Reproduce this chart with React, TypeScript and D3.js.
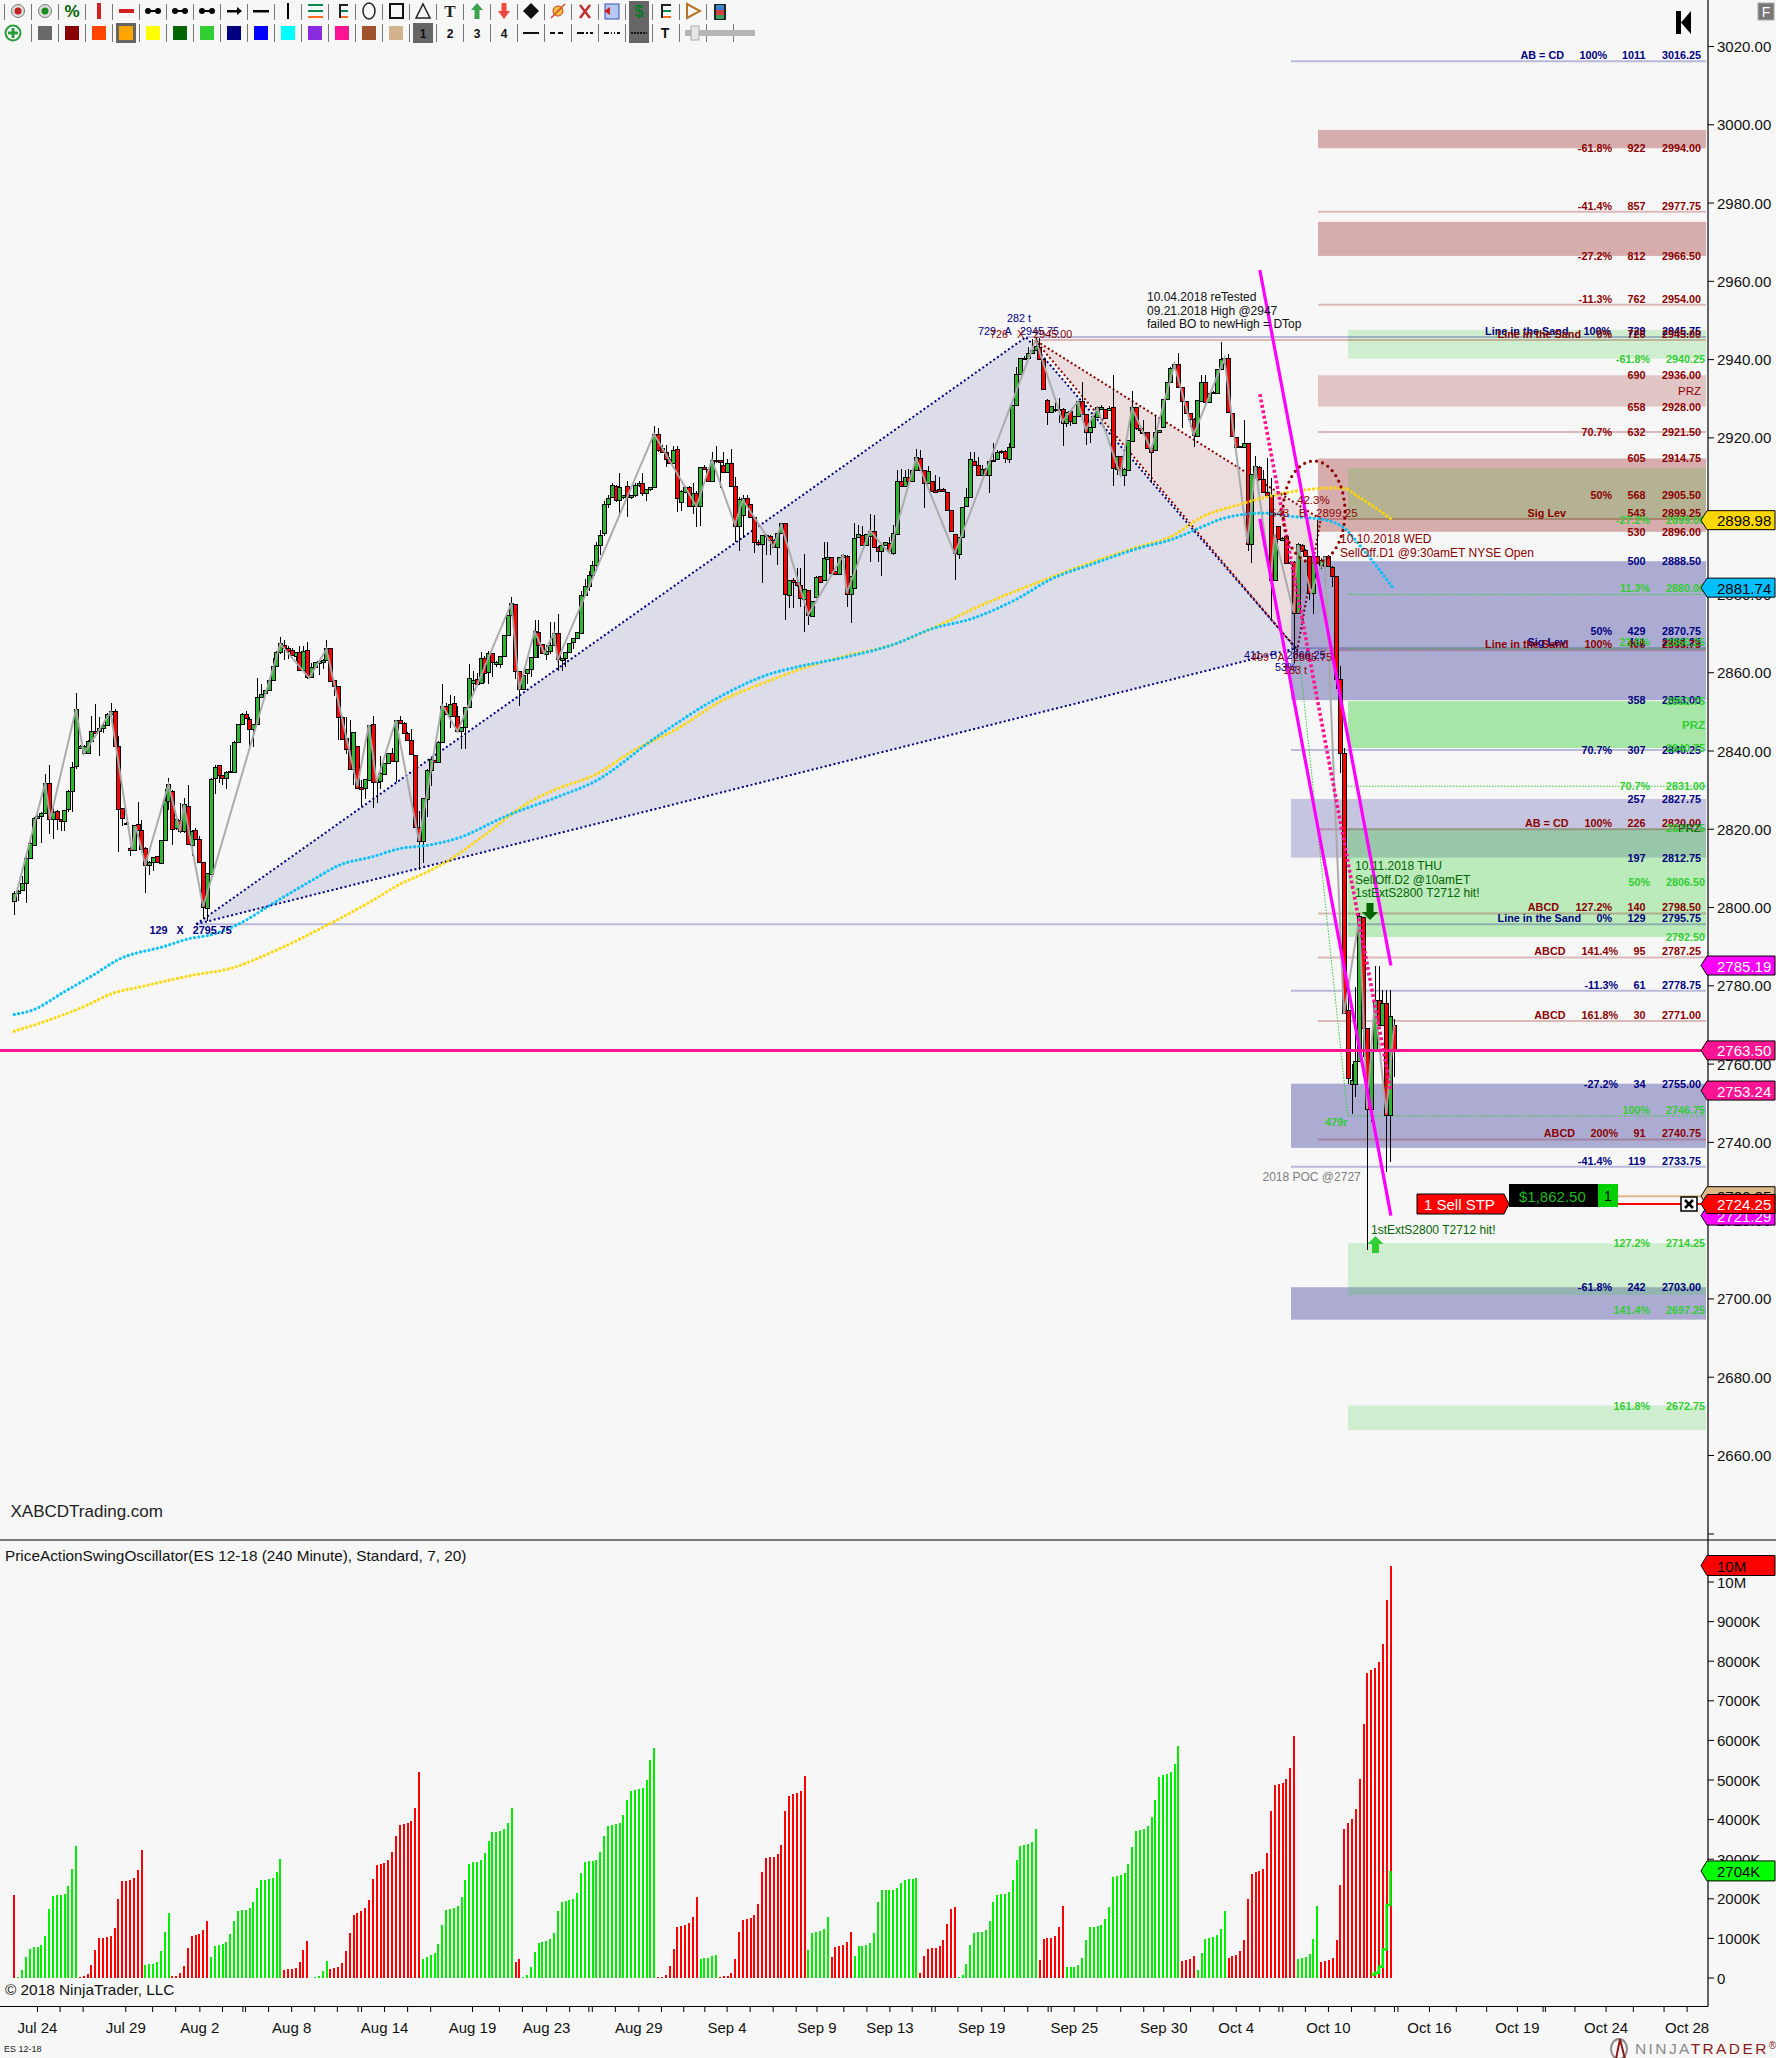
import React from "react";
import * as d3 from "d3";

type Bar = [number, number, number, number]; // open, high, low, close

const candlesJul: Bar[] = [
[2801.6,2804.2,2798.1,2803.8],[2803.8,2804.6,2801.6,2804.2],[2804.4,2808,2804.2,2806.3],[2806.3,2813.1,2801.2,2812.7],[2812.7,2817,2812.7,2816.5],
[2816.1,2823.2,2816.1,2822.9],[2822.9,2823.8,2822.5,2823.3],[2823.3,2824.4,2816.5,2824.2],[2824.2,2834.2,2823.8,2831.9],[2831.9,2836.5,2818.7,2822.5],
[2822.5,2825.9,2817.6,2824.4],[2824.6,2825,2819.9,2822.5],[2822.5,2822.6,2819.5,2822.2],[2822.1,2825,2819.5,2824.9],[2825.1,2830.1,2824.4,2829.7],
[2829.7,2837.1,2824.4,2835.9],[2836.1,2854.8,2835.3,2850.7],[2840.7,2841.6,2840.4,2841.2],[2839.5,2841.5,2839.3,2841.2],[2839.5,2842.9,2839.3,2842.5],
[2842.5,2849,2842.5,2845],[2845,2851.9,2844.6,2844.6],[2845,2848.7,2838.8,2845.9],[2845.9,2847.2,2844.6,2846.7],[2846.7,2849.7,2846.3,2849.5],
[2849.5,2852.3,2849.3,2850.2],[2850.2,2850.7,2841.2,2841.2],[2841.2,2843.8,2814.2,2825.2],[2825.5,2825.5,2820.8,2822.9],[2821.7,2821.8,2821.2,2821.5],
[2815.3,2815.5,2813.1,2814.6],[2814.6,2821.2,2814.6,2821],[2821.4,2827,2819.9,2819.9],[2819.8,2822.3,2814.8,2815],[2815.3,2815.5,2803.8,2810.9],
[2810.9,2812,2808.2,2811.6],[2811.6,2813,2809.3,2813],[2813.1,2813.1,2811.6,2811.6],[2811.4,2817.2,2811.4,2817.2],[2817.2,2830.3,2817.2,2827.6],
[2827.2,2833.1,2825,2831.6],[2829.7,2830.1,2816.1,2820.1],[2820.4,2822.5,2819.9,2822.5],[2822.3,2826.7,2819.1,2819.5],[2819.5,2828,2819.1,2826.5],
[2825.9,2831.2,2816.1,2816.3],[2816.1,2819.9,2813.1,2819.5],[2819.7,2820.4,2817.4,2817.6],[2817.4,2818.4,2811.6,2811.7],[2811.7,2811.7,2797,2800.1],
[2799.9,2808.9,2796.5,2808.9],[2808.6,2833.1,2808.4,2832.9],[2833.1,2836.5,2828.9,2835.9],[2836.3,2836.5,2831.9,2833.8],[2833.8,2833.8,2831.4,2833.1],
[2833.1,2834.8,2830.3,2834.6],[2834.6,2841.6,2834.4,2834.8],[2834.6,2842.5,2834.4,2842.2],[2842.2,2846.9,2842,2846.9],[2846.9,2849.7,2846.9,2849.5],
[2849.5,2850.3,2848.4,2848.4],[2848.3,2848.7,2841,2845.6],[2845.6,2846.9,2841,2846.9],[2846.9,2858.7,2846.9,2853.7],[2853.7,2857,2853.6,2854.6],
[2854.7,2855.7,2854.4,2855.5],[2855.5,2858.2,2855.3,2858.1],[2858.1,2863.8,2858.1,2861.6],[2861.6,2865.5,2861.5,2865.2],[2865.2,2869.1,2864.9,2867.6],
[2867.2,2868.4,2863.2,2866.3],[2866.3,2866.7,2863.5,2865.5],[2865.9,2866.3,2864.2,2864.6],[2864.2,2865.2,2862.9,2865.2],[2865.2,2866.7,2860.4,2860.8],
[2860.8,2866.7,2860.6,2865.5],[2865.9,2867.8,2858.4,2858.9],[2858.9,2862.5,2858.7,2861.5],[2861.5,2862.7,2861.2,2862.7],[2862.5,2862.9,2859.3,2862.9],
[2862.7,2863.5,2861,2863.3],[2863.3,2868.3,2863.2,2866.3],[2866.3,2866.3,2857.6,2857.8],[2858.1,2858.2,2854,2856.5],[2856.5,2856.5,2842.9,2848.7],
];
const candlesAug: Bar[] = [
[2848.7,2849,2843,2843.1],[2843.2,2848.8,2839.3,2840.4],[2840.4,2848,2835.4,2835.4],[2835.4,2844.8,2831.2,2844.8],[2841.2,2841.2,2830.6,2830.6],
[2830.7,2832.7,2825.9,2830.4],[2830.6,2832.9,2827.8,2832.9],[2832.7,2846.7,2832.5,2846.7],[2846.9,2848.9,2825.5,2832],[2832,2832.5,2826.7,2832.5],
[2832.3,2838.7,2830.3,2834.4],[2834.1,2837,2834.1,2836.9],[2836.9,2839.5,2836.9,2839.5],[2839.5,2840.8,2837.4,2837.4],[2837.4,2848,2832,2847.8],
[2847.8,2848.9,2847.1,2847.2],[2847.2,2847.3,2844.4,2844.6],[2844.6,2844.8,2842.9,2842.9],[2842.7,2845.5,2839.2,2839.2],[2839,2839,2820.6,2820.6],
[2820.6,2824.6,2809.7,2817],[2817,2828,2811.4,2828],[2827.8,2835.3,2823.2,2835.1],[2835.1,2838.2,2831,2838],[2837.6,2837.8,2837.2,2837.3],
[2837.3,2842.5,2837.3,2842.2],[2842.2,2857.2,2842.2,2851.4],[2851.6,2852.3,2849.5,2849.5],[2849,2854.4,2845.9,2852.1],[2852.3,2854,2848.9,2848.9],
[2848.9,2851.4,2845,2845],[2845,2846.1,2840.5,2846.1],[2846.1,2851.2,2840.5,2851.2],[2851.2,2862.3,2851.2,2858.6],[2857.4,2860.4,2854.8,2858.1],
[2858.4,2859.9,2857.2,2857.2],[2857.4,2865.2,2857.4,2863.8],[2863.8,2864.4,2857.4,2859.9],[2860.1,2865.5,2857,2865],[2865,2865,2858.9,2862.7],
[2862.3,2862.9,2861.4,2862.7],[2862.3,2864.4,2861.2,2864.4],[2864.4,2869.7,2864.4,2869.7],[2869.7,2874.8,2869.7,2874.8],[2874.8,2879.3,2874.8,2877.8],
[2877.5,2877.5,2858.3,2860.4],[2860.4,2860.4,2851.6,2855.8],[2855.8,2860,2855.8,2859.5],[2860,2860.9,2857,2860.9],[2860.9,2864,2858.9,2863.9],
[2863.9,2873.5,2863.9,2870.6],[2870.4,2873.4,2863.8,2867.2],[2867.3,2867.3,2864.9,2865],[2864.9,2867.2,2863.2,2865.6],[2865.5,2872.9,2864.9,2867.2],
[2867.2,2872.9,2867.2,2870.1],[2870.1,2875.1,2860.4,2863.6],[2863.3,2863.8,2860.4,2863.8],[2863.8,2865.2,2861.5,2865.2],[2865.3,2867.6,2865.3,2867.6],
[2867.8,2868.8,2866,2868.8],[2868.8,2870.3,2868.8,2870.3],[2870.1,2881,2870.1,2879.9],[2879.9,2884,2879.9,2882.2],[2882.2,2886,2881,2885],
[2885,2888.5,2884,2887.6],[2887.6,2893.5,2886,2892.7],[2892.7,2896.5,2890,2895.2],[2895.7,2904,2895,2903],[2903,2905.5,2902,2904.6],
[2904.9,2908.4,2904.9,2908],[2907.8,2908,2903.5,2904.2],[2904.2,2911,2900,2907.4],[2905,2905.5,2904.5,2905.4],[2907.6,2909,2899.9,2905],
[2905,2905.5,2904.5,2905.4],[2905.4,2908.5,2905,2908],[2908,2909,2907.5,2908.6],[2908.6,2911,2905.2,2905.9],[2905.9,2907,2904,2906.9],
[2906.9,2907.5,2906.5,2907.4],[2907.4,2923,2907.4,2921],[2921,2922.5,2916.5,2916.8],
];
const candlesSep: Bar[] = [
[2917.4,2918.2,2916.3,2916.5],[2916.5,2918.2,2912.5,2914.6],[2914.6,2915,2913.5,2913.5],[2913.5,2918,2913.5,2916.9],[2917.1,2918,2901,2904.6],
[2903.6,2906.7,2901.4,2906.5],[2906.3,2907.8,2906.3,2907.4],[2907.4,2907.8,2902.5,2902.7],[2902.7,2908.5,2900.6,2906],[2906,2906.5,2897.2,2902.5],
[2902.5,2912.5,2897.5,2912.5],[2912.5,2913,2911.9,2912],[2912,2912.3,2908.8,2909.1],[2909.1,2916.3,2908.8,2914.4],[2914.4,2917.8,2913.5,2914.3],
[2914.4,2914.4,2907.1,2913.8],[2913.1,2916.5,2911.2,2911.4],[2911.4,2914.5,2911.4,2913.5],[2913.5,2917.1,2907.6,2907.8],[2907.6,2910,2893.5,2897.6],
[2897.6,2905,2891,2904.3],[2900.3,2905.5,2894.4,2904.6],[2904.6,2905.5,2902.9,2902.9],[2903,2903,2899.7,2899.7],[2899.7,2899.7,2890.6,2893.5],
[2893.5,2894,2892.4,2892.9],[2892.9,2895.1,2882.9,2895.1],[2895.1,2895.4,2890.1,2894.9],[2894.9,2895.1,2890.1,2894],[2894,2894.2,2892,2892.2],
[2892.1,2895.7,2887.6,2895.7],[2895.7,2898.2,2895.7,2898.2],[2898.2,2898.2,2873.4,2880.1],[2879.9,2883.6,2876.5,2883.6],[2883.6,2884.2,2876.5,2883.3],
[2883.1,2886.8,2882,2882.3],[2882.3,2886.8,2876.9,2879.1],[2878.9,2890.4,2870.3,2881.4],[2881.2,2881.2,2872.3,2874.8],[2874.6,2878.2,2874.6,2878.2],
[2879.3,2884.6,2879.3,2884.4],[2884.6,2884.6,2883.3,2883.3],[2883.6,2893.5,2883.6,2889.3],[2889.1,2893.5,2888.9,2889.5],[2889.5,2889.5,2885.4,2885.5],
[2885.9,2886,2885.2,2885.3],[2885.3,2889.6,2885.3,2889.5],[2889.5,2890.4,2889.3,2890],[2889.9,2890.2,2876.9,2880.1],[2880.1,2884.6,2872.7,2884.6],
[2881.6,2898.2,2881.6,2894.4],[2894.6,2897.8,2894.4,2895.4],[2895.2,2897.6,2892.5,2892.7],[2892.7,2895.5,2892.7,2895.5],[2895,2900.6,2888.2,2896.3],
[2896.3,2900.3,2891.8,2892.1],[2892.1,2892.3,2888.2,2891.2],[2891.2,2892.7,2884.8,2892.7],[2892.7,2893.4,2892.7,2893.4],[2893.1,2894.8,2890.9,2891],
[2890.7,2897.8,2890.1,2895.8],[2895.5,2911.7,2895.5,2908.9],[2908.9,2912,2907.7,2907.7],[2907.7,2911.7,2907.7,2909.9],[2909.9,2912,2909,2909],
[2909,2911.8,2909,2911.8],[2911.8,2917.1,2911.8,2915],[2914.8,2916.8,2911.8,2911.8],[2911.8,2911.8,2902.2,2908.4],[2908.4,2912.9,2908.4,2911.6],
[2909.1,2909.1,2906.3,2906.5],[2906.7,2910.5,2906.2,2906.3],[2906.9,2910.1,2906.4,2906.5],[2906.9,2907.2,2906.5,2906.5],[2906.3,2906.3,2901.6,2901.6],
[2901.6,2901.6,2896,2896.1],[2895.4,2895.4,2883.6,2890.6],[2890.4,2894.6,2889,2894.6],[2894.6,2902.3,2894.6,2902.3],[2902.5,2907.2,2902.5,2904.9],
[2904.9,2916.5,2904.9,2914.6],[2914.2,2916.5,2913.1,2913.1],[2913.1,2915.2,2910.6,2910.6],[2910.6,2913.1,2910.6,2912.1],[2912,2912.3,2910.6,2910.6],
[2910.4,2914.4,2905.9,2914],[2914,2918.6,2913.8,2914.4],[2914.6,2916.8,2914.4,2916.5],
];
const candlesLate: Bar[] = [
[2916.7,2917,2916,2916.4],[2916.7,2917,2913.5,2914.8],[2914.6,2918.7,2913.5,2917.6],[2917.6,2928.4,2917.6,2928.4],[2928.4,2938.2,2928.4,2936.4],
[2936.2,2940.4,2936.2,2940.4],[2940.4,2941,2940,2940.1],[2940.4,2943.3,2940.4,2941.8],[2941.8,2945.2,2941.8,2942.5],[2942.4,2945.7,2942.2,2943.5],
[2943.3,2945.5,2940.1,2940.1],[2940.1,2940.1,2932.4,2932.4],[2929.7,2929.9,2923.3,2926.6],[2926.6,2928.2,2926.6,2928.2],[2927,2930.1,2926.6,2927.3],
[2927.3,2930.1,2923.8,2927.2],[2927.3,2927.6,2917.8,2923.9],[2923.9,2926.7,2922.9,2926.7],[2926.9,2927,2923.1,2924.2],[2923.9,2925.7,2923.9,2925.7],
[2925.7,2929.5,2925.7,2929.5],[2929.5,2934.4,2925.8,2926],[2926,2926,2918.2,2921.6],[2921.5,2922.9,2918.7,2922.9],[2922.7,2925.5,2922.7,2925.5],
[2925.3,2928.2,2925.3,2928],[2927.4,2928.5,2927.2,2928],[2927.3,2927.4,2925,2925],[2927.2,2928.2,2927,2927.6],[2927.9,2936.1,2907.6,2912.3],
[2912,2915.4,2910.6,2915.4],[2915.4,2915.4,2911.9,2911.9],[2910.4,2912.3,2907.6,2912],[2911.9,2919.5,2911.9,2919.5],[2919.3,2931.9,2919.3,2927.9],
[2927.9,2927.9,2922,2922.5],[2922.5,2923,2920.9,2922],[2921.6,2924.6,2921.2,2921.4],[2921.6,2921.6,2917.4,2917.4],[2917.4,2917.4,2908.4,2916.5],
[2916.8,2925.9,2916.8,2921.6],[2921.6,2922,2921.5,2921.9],[2922.7,2929.9,2922.7,2929.9],[2929.9,2934.4,2929.9,2934.4],[2934.4,2938,2934.4,2937.8],
[2937.8,2939.5,2937.8,2938.9],[2938.9,2941.8,2933.1,2933.1],[2933.1,2933.1,2922.5,2929.3],[2929.3,2929.3,2926.3,2926.3],[2926.3,2926.3,2922.9,2924.8],
[2924.8,2925,2917.6,2920.8],[2920.6,2929.7,2920.6,2929.7],[2929.5,2936.1,2929.5,2934.2],[2934.2,2936.1,2929.1,2929.1],[2929.1,2931.4,2929.1,2931.4],
[2931.4,2932,2931.2,2931.7],[2931.4,2937.5,2931.4,2937.5],[2937.5,2944.6,2937.5,2940.1],[2939,2940.4,2938.9,2940.4],[2940.4,2941.5,2926.7,2926.7],
[2926.3,2926.3,2920.2,2920.4],[2920.2,2920.2,2917.6,2917.6],[2917.8,2918,2917.5,2917.7],[2917.6,2924.6,2917.6,2918.7],
];
const candlesOct: Bar[] = [
[2918.8,2918.8,2891,2892.9],[2892.9,2910.8,2888,2910.8],[2910.6,2915.4,2910.6,2912.7],[2912.5,2912.7,2909.5,2909.5],[2909.5,2911.8,2906,2906.1],
[2906.1,2914.8,2905.3,2905.5],[2905.3,2909.7,2873.6,2883.6],[2883.8,2895.2,2883.8,2895.2],[2897.6,2897.6,2894,2894.2],[2894,2894.6,2893.7,2894.4],
[2895,2895,2888,2888],[2888.1,2888.5,2887.9,2888.4],[2888.4,2888.6,2862.5,2875.3],[2875.3,2893.2,2875,2892.9],[2892.7,2893,2891,2891],
[2891.4,2891.6,2889.7,2889.7],[2889.7,2889.7,2878.6,2880.4],[2880.4,2889.7,2875,2889.7],[2889.9,2899.1,2888,2888],[2887.6,2889.2,2886.5,2888.8],
[2887.2,2889.9,2882,2889.9],[2889.9,2890,2887.2,2887.2],[2887.1,2887.3,2882,2884.8],[2884.8,2884.8,2855.9,2858.5],[2858.5,2861.6,2834.3,2839.6],
[2839.4,2840.7,2773,2773],[2773.9,2781.6,2754.9,2756.4],[2754.9,2760,2747.3,2756],[2754.9,2779.7,2751.7,2760.8],[2760.8,2798.7,2760.8,2797.8],
[2797.7,2797.7,2761.9,2769.1],[2769.1,2769.1,2712.5,2748.5],[2748.5,2763.4,2745.3,2763.4],[2763.9,2785,2763.9,2776.5],[2776.5,2785,2769.9,2769.9],
[2769.9,2779,2769.9,2775.5],[2775.5,2779,2732.4,2746.9],[2746.9,2779,2734.9,2772.4],[2770.1,2771.4,2756.8,2763.5],
];
const candles: Bar[] = [...candlesJul, ...candlesAug, ...candlesSep, ...candlesLate, ...candlesOct];

const swingBars = [0,8,9.3,16,18,25,30.5,31.5,34,40,43,44,49,69,76.5,81,89,92,94,99,105,111,115,129,131,135,137.5,140,141,166,177,181,187,189,197,199,206,215,216,222,227,234,244,265,272,276,278,281,287,290,295,301,306,314,320,322,326,327,332,333,336.5,340,345,349,351,353,356,358];
const swingPrices = [2801.6,2831.9,2822.5,2850.7,2839.3,2849.9,2814.8,2820.8,2811,2831.4,2819.5,2826.3,2800.2,2867.4,2858.7,2866,2831,2846.7,2832,2847.8,2817,2851.8,2845,2877.8,2855.7,2870.6,2865,2870.1,2863.3,2921,2902.5,2914.4,2897.8,2904.2,2892.2,2897.8,2874.8,2889.9,2880.3,2896.3,2890.6,2914.8,2890.4,2945,2924.2,2929.3,2922,2927.6,2910.6,2927.6,2916.9,2938.7,2920.8,2940.4,2893.1,2912.7,2883.8,2895.3,2875.3,2892.7,2880.4,2889.7,2772.7,2797.5,2748.5,2775.8,2747.3,2770.1];

const blueBars = [0,5,12.5,20.7,27,39,46,50,57.8,68,77.5,84.5,92.6,100.7,106.5,115.8,127.4,141.3,150.6,166.8,183.3,195.5,203.7,215.3,229.2,237.4,249,260.6,268.8,280.4,292,300.2,308,313.6,324,331.8,340.4,345.6,349,357.7];
const bluePrices = [2772.7,2773.9,2778.2,2782.9,2786.7,2790.1,2792.2,2792.8,2795.6,2801.6,2807.1,2810.9,2812.9,2815.2,2815.8,2818,2823.3,2828.4,2832.2,2843.7,2854,2859.5,2861.6,2863.9,2867.6,2871,2874,2879.1,2883.8,2888,2891.9,2894,2897.2,2899.4,2900.8,2899.9,2899,2896.5,2892.7,2881.74];
const yellowBars = [0,6.7,18.3,25.3,33.4,47.3,55.5,68.2,79.8,92.6,100.7,106.5,112.3,121.6,133.2,140.2,150.6,161,171.7,183.3,195.5,206,215.3,228,237.4,251.3,264.1,280.4,292,300.2,308,317.5,334.7,341.4,344.7,349,357.7];
const yellowPrices = [2768.4,2770.5,2774.8,2778,2779.9,2782.9,2784.3,2789.2,2794.8,2801.6,2806.3,2808.8,2811.8,2818.2,2826.7,2830.1,2833.9,2840.3,2845.5,2852.7,2857.8,2861.6,2864.2,2867.2,2871,2877.4,2882.5,2888.5,2892.3,2894.8,2899.7,2902.9,2906.7,2907.2,2907.2,2904.8,2898.98];

// Gartley-style patterns: [bar, price]
const bluePattern: [number, number][] = [[47.2,2795.75],[262.5,2945.75],[332.6,2866.25]];
const redPattern: [number, number][] = [[264.8,2945],[332.9,2865.75],[339,2899.25]];
// trend lines: [bar, price, bar, price]
const magentaUpper = [323.2,2962.9,357.2,2785.19];
const magentaLower = [323.2,2899.3,357.2,2721.29];
const pinkDotted = [323.2,2931.2,357.2,2753.24];
const thinGreen = [333.5,2863.5,346,2746.75];

// price zones [top, bottom, strength]
const redZones: [number, number, number][] = [[2998.7,2994,0.3],[2975.2,2966.5,0.3],[2936,2928,0.2],[2914.75,2896,0.3]];
const blueZones: [number, number, number][] = [[2888.5,2853,0.3],[2827.75,2812.75,0.2],[2755,2738.6,0.3],[2703,2694.7,0.3]];
const greenZones: [number, number, number][] = [[2947.6,2940.25,0.2],[2912.3,2899,0.2],[2852.75,2840.75,0.4],[2820.25,2792.5,0.3],[2714.25,2701,0.2],[2672.75,2666.5,0.2]];
const blueLevels = [3016.25,2866.25,2840.25,2778.75,2733.75];
const redLevels = [2977.75,2954,2921.5,2899.25,2865.75,2820,2798.5,2787.25,2771,2740.75];
const greenDotted = [2880,2831,2746.75,2866.25];

type Row = [number, number, string, string, string, string]; // level, offset-kind, name, pct, num, value
const navyRows: Row[] = [
[3016.25,1,"AB = CD","100%","1011","3016.25"],[2945.75,1,"Line in the Sand","100%","729","2945.75"],[2888.5,0,"","","500","2888.50"],
[2870.75,0,"","50%","429","2870.75"],[2866.25,1,"Sig Lev","","411","2866.25"],[2853,0,"","","358","2853.00"],[2840.25,0,"","70.7%","307","2840.25"],
[2827.75,0,"","","257","2827.75"],[2812.75,0,"","","197","2812.75"],[2795.75,1,"Line in the Sand","0%","129","2795.75"],
[2778.75,1,"","-11.3%","61","2778.75"],[2755,0,"","-27.2%","34","2755.00"],[2733.75,1,"","-41.4%","119","2733.75"],[2703,0,"","-61.8%","242","2703.00"],
];
const redRows: Row[] = [
[2994,0,"","-61.8%","922","2994.00"],[2977.75,1,"","-41.4%","857","2977.75"],[2966.5,0,"","-27.2%","812","2966.50"],[2954,1,"","-11.3%","762","2954.00"],
[2945,1,"Line in the Sand","0%","726","2945.00"],[2936,0,"","","690","2936.00"],[2928,0,"","","658","2928.00"],[2921.5,0,"","70.7%","632","2921.50"],
[2914.75,0,"","","605","2914.75"],[2905.5,0,"","50%","568","2905.50"],[2899.25,1,"Sig Lev","","543","2899.25"],[2896,0,"","","530","2896.00"],
[2865.75,1,"Line in the Sand","100%","409","2865.75"],[2820,1,"AB = CD","100%","226","2820.00"],[2798.5,1,"ABCD","127.2%","140","2798.50"],
[2787.25,1,"ABCD","141.4%","95","2787.25"],[2771,1,"ABCD","161.8%","30","2771.00"],[2740.75,1,"ABCD","200%","91","2740.75"],
];
const greenRows: [number, number, string, string][] = [
[2940.25,0,"-61.8%","2940.25"],[2899,0,"-27.2%","2899.00"],[2880,1,"11.3%","2880.00"],[2866.25,1,"23.6%","2866.25"],[2852.75,0,"","2852.75"],
[2840.75,0,"","2840.75"],[2831,0,"70.7%","2831.00"],[2820.25,0,"","2820.25"],[2806.5,0,"50%","2806.50"],[2792.5,0,"","2792.50"],
[2746.75,1,"100%","2746.75"],[2714.25,0,"127.2%","2714.25"],[2697.25,0,"141.4%","2697.25"],[2672.75,0,"161.8%","2672.75"],
];
const columnOverrides: Record<string, [number, number]> = {
"3016.25":[1564,1607],"2945.75":[1568.5,1611],"2945.00":[1581,1612],"2795.75":[1581,1612],"2865.75":[1568.5,1612],"2820.00":[1568.5,1612],
"2798.50":[1559,1612],"2787.25":[1565.5,1618],"2771.00":[1565.5,1618],"2740.75":[1575,1618],"2778.75":[1566,1618],"2755.00":[1566,1618],
};

const priceTicks = d3.range(2660, 3021, 20);

// oscillator swings, thousands
const oscSwings: [string, number[]][] = [
["r",[2097]],
["g",[26,199,529,737,789,789,823,1066,1742,2080,2097,2097,2123,2322,2755,3336]],
["r",[26,43,104,329,711,1014,1014,1040,1066,1265,1993,2452,2452,2478,2530,2729,3232]],
["g",[329,355,355,407,685,1161,1646]],
["r",[52,52,130,303,763,1066,1083,1109,1213,1438]],
["g",[529,806,832,858,910,1109,1438,1690,1716,1716,1768,1924,2270,2478,2478,2504,2530,2677,3007]],
["r",[199,225,225,251,407,711,936,0]],
["g",[26,52,182,433]],
["r",[234,260,277,381,685,1135,1594,1646,1690,1768,1967,2504,2851,2877,2903,2981,3180,3587,3865,3891,3917,3969,4298,5208]],
["g",[485,529,581,633,858,1343,1716,1742,1768,1820,2045,2478,2877,2929,2929,2981,3154,3457,3691,3691,3717,3761,3917,4298]],
["r",[407,485]],
["g",[26,78,277,659,884,910,936,988,1135,1690,1924,1941,1967,1993,2140,2651,2929,2955,2955,2981,3180,3587,3839,3865,3891,3917,4116,4497,4722,4748,4774,4800,5000,5511,5806]],
["r",[26,26,78,303,737,1291,1317,1343,1386,1542,2045]],
["g",[485,503,503,555,581]],
["r",[26,43,52,130,485,1161,1464,1490,1516,1594,1872,2677,3033,3059,3059,3137,3362,4220,4601,4644,4670,4722,5104]],
["g",[711,1135,1161,1187,1239,1542]],
["r",[529,789,806,832,910,1161]],
["g",[555,806,806,832,884,1135,1924,2227,2227,2227,2227,2270,2400,2470,2504,2504,2530]],
["r",[130,555,737,754,763,806,962,1369,1742,1794]],
["g",[26,78,355,832,1135,1161,1161,1213,1438,1924,2097,2123,2123,2175,2478,2981,3336,3362,3388,3440,3761]],
["r",[459,988,1014,1014,1066,1291,1820]],
["g",[277,277,277,329,503,962,1291,1291,1317,1343,1490,1794,2556,2574,2600,2651,2877,3310,3717,3743,3761,3839,4064,4497,5078,5130,5156,5208,5407,5858]],
["r",[433,459,485,555]],
["g",[199,633,988,1014,1040,1083,1239,1690]],
["r",[503,555,581,685,962,1993,2626,2677,2703,2755,3154,4220,4878,4904,4930,5026,5303,6109]],
["g",[485,503,529,607,988,1820]],
["r",[407,433,459,503,962,2348,3761,3917,4021,4272,5026,6412,7703,7781,7833,7980,8440,9549,10416]],
];
const oscLastSwing = [87,130,286,719,1846,2704];
const oscTickValues = [0,1000,2000,3000,4000,5000,6000,7000,8000,9000];

const dateLabels = ["Jul 24","Jul 29","Aug 2","Aug 8","Aug 14","Aug 19","Aug 23","Aug 29","Sep 4","Sep 9","Sep 13","Sep 19","Sep 25","Sep 30","Oct 4","Oct 10","Oct 16","Oct 19","Oct 24","Oct 28"];
const dateLabelSlots = [6,29,48.3,72.2,96.4,119.3,138.6,162.6,185.6,209,228,251.9,276,299.3,318.2,342.2,368.5,391.4,414.5,435.6];
const dateTickSlots = [6,11.9,17.9,29,36,42,48.3,54.2,59.5,60.2,66.2,72.2,78.2,84.1,89.5,90.4,96.4,102.4,108.4,119.3,126.3,132.3,138.6,144.6,149.6,150.5,156.5,162.6,168.5,174.3,179.8,185.6,191.6,197.6,203.6,209,216,222,228,233.8,238.9,239.8,245.7,251.9,257.8,263.9,269.2,270,276,281.9,288.1,294.1,299.3,306.3,312.2,318.2,324.3,329.3,330.3,336.2,342.2,348.2,354.3,359.4,360.3,368.5,375.5,383.4,391.4,398.1,398.7,406.4,414.5,421.6,429.6,435.6];

const flags: [number, string, string, string][] = [
[2898.98,"2898.98","#ffd700","#000"],[2881.74,"2881.74","#00bfff","#000"],[2785.19,"2785.19","#ff00ff","#fff"],[2763.5,"2763.50","#ff1493","#fff"],
[2753.24,"2753.24","#ff1493","#fff"],[2726.25,"2726.25","#deb887","#000"],[2721.29,"2721.29","#ff00ff","#fff"],[2724.25,"2724.25","#ff0000","#fff"],
];

const toolbarColors = ["#696969","#8b0000","#ff4500","#ffa500","#ffff00","#006400","#32cd32","#000080","#0000ff","#00ffff","#8a2be2","#ff1493","#a0522d","#d2b48c"];
const toolbarWidths = ["1","2","3","4"];
const toolbarDashes = ["10 0","5 3","7 2 2 2","5 2 1 2 1 2","2 1"];

const W = 1776, H = 2058;
const AXIS_X = 1708, RIGHT = 1706, BLUE_X = 1291, RED_X = 1318, GREEN_X = 1348;
const SANS = "'Liberation Sans', Arial, sans-serif";
const NAVY = "#000080", DRED = "#8b0000", LIME = "#32cd32";

const y = d3.scaleLinear().domain([3020, 2660]).range([46.5, 1455.5]);
const x = d3.scaleLinear().domain([0, candles.length - 1]).range([14.3, 1394]);
const slotX = d3.scaleLinear().domain([0, 1]).range([14.4, 18.24]);
const oscY = d3.scaleLinear().domain([0, 10000]).range([1978, 1582]);
const lineXY = d3.line<[number, number]>().x(d => x(d[0])).y(d => y(d[1]));
const smoothXY = d3.line<[number, number]>().x(d => x(d[0])).y(d => y(d[1])).curve(d3.curveMonotoneX);

const oscBars = oscSwings.flatMap(([c, vals]) => vals.map(v => ({ c, v })));
const oscX = d3.scaleLinear().domain([0, oscBars.length - 1]).range([14.4, 1390.5]);

function Label({ x: tx, y: ty, fill, anchor = "end", size = 10.8, weight = 700, children }: any) {
  return <text x={tx} y={ty} fill={fill} textAnchor={anchor} dominantBaseline="central" fontFamily={SANS} fontSize={size} fontWeight={weight} style={{ whiteSpace: "pre" }}>{children}</text>;
}

function Rows({ rows, color }: { rows: Row[]; color: string }) {
  return <g>{rows.map((r, i) => {
    const [lvl, kind, name, pct, num, val] = r;
    const ty = y(lvl) - (kind ? 6 : 0);
    const [nameR, pctR] = columnOverrides[val] || [1566, 1612];
    return <g key={i}>
      {name && <Label x={nameR} y={ty} fill={color}>{name}</Label>}
      {pct && <Label x={pctR} y={ty} fill={color}>{pct}</Label>}
      <Label x={1645.5} y={ty} fill={color}>{num}</Label>
      <Label x={1701} y={ty} fill={color}>{val}</Label>
    </g>;
  })}</g>;
}

function Trend({ d, ...rest }: any) {
  return <line x1={x(d[0])} y1={y(d[1])} x2={x(d[2])} y2={y(d[3])} {...rest} />;
}

function Arrow({ cx, cy, dir, fill }: any) {
  const s = dir;
  const p = [[0,-9*s],[8,-1*s],[3.5,-1*s],[3.5,8*s],[-3.5,8*s],[-3.5,-1*s],[-8,-1*s]];
  return <polygon points={p.map(q => `${cx + q[0]},${cy + q[1]}`).join(" ")} fill={fill} />;
}

function Flag({ cy, text, fill, color, tall = 19 }: any) {
  const h = tall / 2;
  const d = `M1701,${cy} L1707,${cy - h} H1775 V${cy + h} H1707 Z`;
  return <g>
    <path d={d} fill={fill} stroke="#000" strokeWidth={1} />
    <text x={1717} y={cy + 0.5} dominantBaseline="central" fill={color} fontFamily={SANS} fontSize={15}>{text}</text>
  </g>;
}

function TopIcon({ i, cx }: { i: number; cx: number }) {
  const cy = 11;
  switch (i) {
    case 0: return <g><circle cx={cx} cy={cy} r={6.5} fill="#ddd" stroke="#777" /><circle cx={cx} cy={cy} r={3.5} fill="#c02020" /></g>;
    case 1: return <g><circle cx={cx} cy={cy} r={6.5} fill="#ddd" stroke="#777" /><circle cx={cx} cy={cy} r={3.5} fill="#1a8a1a" /></g>;
    case 2: return <text x={cx} y={cy + 6} textAnchor="middle" fontFamily={SANS} fontWeight={700} fontSize={17} fill="#006400">%</text>;
    case 3: return <rect x={cx - 2} y={3} width={4} height={16} fill="#d02020" />;
    case 4: return <rect x={cx - 7} y={cy - 2} width={15} height={4} fill="#d02020" />;
    case 5: case 6: case 7: return <g><rect x={cx - 5} y={cy - 1} width={10} height={2} /><circle cx={cx - 5} cy={cy} r={3} /><circle cx={cx + 5} cy={cy} r={3} /></g>;
    case 8: return <g><rect x={cx - 7} y={cy - 1} width={11} height={2.5} /><polygon points={`${cx + 8},${cy} ${cx + 3},${cy - 4} ${cx + 3},${cy + 4}`} /></g>;
    case 9: return <rect x={cx - 8} y={cy - 1} width={16} height={2.5} />;
    case 10: return <rect x={cx - 1} y={3} width={2} height={16} />;
    case 11: return <g><rect x={cx - 7} y={4} width={15} height={2} fill="#0a8a4a" /><rect x={cx - 7} y={10} width={15} height={2} fill="#0a8a4a" /><rect x={cx - 7} y={16} width={15} height={2} fill="#ff6a20" /></g>;
    case 12: return <g><rect x={cx - 3} y={4} width={9} height={2} fill="#222" /><rect x={cx - 3} y={10} width={9} height={2} fill="#0a8a4a" /><rect x={cx - 3} y={16} width={9} height={2} fill="#ff6a20" /><rect x={cx - 3} y={4} width={2} height={14} fill="#222" /></g>;
    case 13: return <ellipse cx={cx} cy={cy} rx={6} ry={8} fill="none" stroke="#222" strokeWidth={1.5} />;
    case 14: return <rect x={cx - 6} y={4} width={13} height={14} fill="none" stroke="#111" strokeWidth={2} />;
    case 15: return <polygon points={`${cx},4 ${cx + 7},18 ${cx - 7},18`} fill="none" stroke="#222" strokeWidth={1.5} />;
    case 16: return <text x={cx} y={cy + 6} textAnchor="middle" fontFamily="'Liberation Serif', serif" fontWeight={700} fontSize={17} fill="#222">T</text>;
    case 17: return <polygon points={`${cx},3 ${cx + 6},10 ${cx + 2.5},10 ${cx + 2.5},19 ${cx - 2.5},19 ${cx - 2.5},10 ${cx - 6},10`} fill="#3aa34a" />;
    case 18: return <polygon points={`${cx},19 ${cx + 6},11 ${cx + 2.5},11 ${cx + 2.5},3 ${cx - 2.5},3 ${cx - 2.5},11 ${cx - 6},11`} fill="#f0483c" />;
    case 19: return <polygon points={`${cx},3 ${cx + 8},11 ${cx},19 ${cx - 8},11`} fill="#111" />;
    case 20: return <g><circle cx={cx} cy={cy} r={5} fill="#f0c040" stroke="#d04020" /><line x1={cx - 7} y1={cy + 7} x2={cx + 7} y2={cy - 7} stroke="#d04020" strokeWidth={1.5} /></g>;
    case 21: return <g stroke="#c03030" strokeWidth={2.5}><line x1={cx - 5} y1={5} x2={cx + 5} y2={18} /><line x1={cx + 5} y1={5} x2={cx - 5} y2={18} /></g>;
    case 22: return <g><rect x={cx - 7} y={4} width={14} height={15} fill="#b8c8f0" stroke="#3050b0" /><polygon points={`${cx - 8},${cy} ${cx - 2},${cy - 4} ${cx - 2},${cy + 4}`} fill="#d02020" /></g>;
    case 23: return <g><rect x={cx - 10} y={1} width={20} height={22} fill="#666" /><text x={cx} y={cy + 6} textAnchor="middle" fontFamily={SANS} fontWeight={700} fontSize={16} fill="#0a7a2a">$</text></g>;
    case 24: return <g><rect x={cx - 5} y={4} width={10} height={2} fill="#222" /><rect x={cx - 5} y={10} width={10} height={2} fill="#0a8a4a" /><rect x={cx - 5} y={16} width={10} height={2} fill="#ff6a20" /><rect x={cx - 5} y={4} width={2} height={14} fill="#222" /></g>;
    case 25: return <polygon points={`${cx - 6},4 ${cx + 7},11 ${cx - 6},18`} fill="none" stroke="#b8752a" strokeWidth={2} />;
    default: return <g><rect x={cx - 6} y={4} width={12} height={16} fill="#222" /><rect x={cx - 4} y={5} width={8} height={5} fill="#3a80d0" /><rect x={cx - 4} y={10} width={8} height={5} fill="#d04040" /><rect x={cx - 4} y={15} width={8} height={4} fill="#40a060" /></g>;
  }
}

function Toolbar() {
  const cols = d3.range(0, 27).map(i => 18 + i * 27);
  return <g>
    {cols.map((c, i) => <g key={i}>
      <line x1={c - 13.5} x2={c - 13.5} y1={4} y2={20} stroke="#777" />
      <TopIcon i={i} cx={c} />
    </g>)}
    <g>
      <circle cx={13} cy={33} r={7.5} fill="#fff" stroke="#2a9a3a" strokeWidth={2} />
      <path d="M11.5 28 h3 v3.5 h3.5 v3 h-3.5 v3.5 h-3 v-3.5 h-3.5 v-3 h3.5 z" fill="#2a9a3a" />
      {d3.range(0, 27).map(i => <line key={i} x1={31.5 + i * 27} x2={31.5 + i * 27} y1={24} y2={42} stroke="#777" />)}
      {toolbarColors.map((c, i) => {
        const cx = 45 + i * 27;
        return <g key={c}>
          {i === 3 && <rect x={cx - 10} y={23} width={20} height={20} fill="#666" />}
          <rect x={cx - 7} y={26} width={14} height={14} fill={c} />
        </g>;
      })}
      <rect x={413} y={23} width={20} height={20} fill="#666" />
      {toolbarWidths.map((t, i) => <text key={t} x={423 + i * 27} y={38} textAnchor="middle" fontFamily={SANS} fontWeight={700} fontSize={12} fill="#111">{t}</text>)}
      <rect x={629} y={23} width={20} height={20} fill="#666" />
      {toolbarDashes.map((t, i) => <line key={t} x1={523 + i * 27} x2={539 + i * 27} y1={33} y2={33} stroke="#111" strokeWidth={2} strokeDasharray={t} />)}
      <text x={665} y={38} textAnchor="middle" fontFamily={SANS} fontWeight={700} fontSize={14} fill="#111">T</text>
      <rect x={685} y={30} width={70} height={6} fill="#b5b5b5" />
      <rect x={691} y={26} width={8} height={14} fill="#e6e6e6" stroke="#aaa" />
    </g>
  </g>;
}

export default function App() {
  const rowsGreen = greenRows.map((r, i) => {
    const ty = y(r[0]) - (r[1] ? 6 : 0);
    return <g key={i}>
      {r[2] && <Label x={1650} y={ty} fill={LIME}>{r[2]}</Label>}
      <Label x={1705} y={ty} fill={LIME}>{r[3]}</Label>
    </g>;
  });
  return (
    <svg width={W} height={H} viewBox={`0 0 ${W} ${H}`} style={{ position: "absolute", left: 0, top: 0, display: "block" }} fontFamily={SANS}>
      <rect width={W} height={H} fill="#f7f7f7" />

      {/* harmonic pattern triangles */}
      <polygon points={bluePattern.map(p => `${x(p[0])},${y(p[1])}`).join(" ")} fill={NAVY} fillOpacity={0.1} />
      <polygon points={redPattern.map(p => `${x(p[0])},${y(p[1])}`).join(" ")} fill={DRED} fillOpacity={0.1} />
      <path d={lineXY(bluePattern)! + "Z"} fill="none" stroke={NAVY} strokeWidth={2} strokeDasharray="2 2.5" />
      <path d={lineXY(redPattern)! + "Z"} fill="none" stroke={DRED} strokeWidth={2} strokeDasharray="2 2.5" />

      {/* zones */}
      {blueZones.map((z, i) => <rect key={i} x={BLUE_X} width={RIGHT - BLUE_X} y={y(z[0])} height={y(z[1]) - y(z[0])} fill={NAVY} fillOpacity={z[2]} />)}
      {redZones.map((z, i) => <rect key={i} x={RED_X} width={RIGHT - RED_X} y={y(z[0])} height={y(z[1]) - y(z[0])} fill={DRED} fillOpacity={z[2]} />)}
      {greenZones.map((z, i) => <rect key={i} x={GREEN_X} width={RIGHT - GREEN_X} y={y(z[0])} height={y(z[1]) - y(z[0])} fill={LIME} fillOpacity={z[2]} />)}

      {/* levels */}
      {blueLevels.map(l => <line key={l} x1={BLUE_X} x2={RIGHT} y1={y(l)} y2={y(l)} stroke={NAVY} strokeOpacity={0.25} strokeWidth={2} />)}
      {redLevels.map(l => <line key={l} x1={RED_X} x2={RIGHT} y1={y(l)} y2={y(l)} stroke={DRED} strokeOpacity={0.25} strokeWidth={2} />)}
      <line x1={x(bluePattern[0][0])} x2={RIGHT} y1={y(2795.75)} y2={y(2795.75)} stroke={NAVY} strokeOpacity={0.25} strokeWidth={2} />
      <line x1={x(bluePattern[1][0])} x2={RIGHT} y1={y(2945.75)} y2={y(2945.75)} stroke={NAVY} strokeOpacity={0.25} strokeWidth={2} />
      <line x1={x(redPattern[0][0])} x2={RIGHT} y1={y(2945)} y2={y(2945)} stroke={DRED} strokeOpacity={0.25} strokeWidth={2} />
      {greenDotted.map(l => <line key={l} x1={GREEN_X} x2={RIGHT} y1={y(l)} y2={y(l)} stroke={LIME} strokeWidth={1} strokeDasharray="1.5 1.5" />)}
      <Trend d={thinGreen} stroke={LIME} strokeWidth={1} strokeDasharray="1.5 1.5" />

      {/* candles */}
      <g shapeRendering="crispEdges">
        {candles.map((b, i) => {
          const [o, h, l, c] = b;
          const px = Math.round(x(i));
          const top = Math.round(y(Math.max(o, c))) + 0.5;
          const bot = Math.round(y(Math.min(o, c))) + 0.5;
          return <g key={i}>
            <line x1={px + 0.5} x2={px + 0.5} y1={y(h)} y2={y(l)} stroke="#000" strokeWidth={1} />
            <rect x={px - 1.5} y={top} width={4} height={Math.max(bot - top, 1)} fill={c >= o ? "#2fb52f" : "#ff0000"} stroke="#000" strokeWidth={1} />
          </g>;
        })}
      </g>

      {/* swing zigzag */}
      <path d={lineXY(swingBars.map((b, i) => [b, swingPrices[i]] as [number, number]))!} fill="none" stroke="#a8a8a8" strokeOpacity={0.95} strokeWidth={2} />

      {/* moving averages */}
      <path d={smoothXY(yellowBars.map((b, i) => [b, yellowPrices[i]] as [number, number]))!} fill="none" stroke="#ffd700" strokeWidth={3.3} strokeLinecap="round" strokeDasharray="0 4.3" strokeOpacity={0.95} />
      <path d={smoothXY(blueBars.map((b, i) => [b, bluePrices[i]] as [number, number]))!} fill="none" stroke="#00bfff" strokeWidth={3.3} strokeLinecap="round" strokeDasharray="0 4.3" strokeOpacity={0.95} />

      {/* drawn trend tools */}
      <Trend d={magentaUpper} stroke="#ff00ff" strokeWidth={3.2} />
      <Trend d={magentaLower} stroke="#ff00ff" strokeWidth={3.2} />
      <Trend d={pinkDotted} stroke="#ff1493" strokeWidth={3.6} strokeDasharray="3 2.5" />
      <ellipse cx={1314} cy={512} rx={31} ry={51} fill="none" stroke={DRED} strokeWidth={3.2} strokeLinecap="round" strokeDasharray="0 6.2" />
      <line x1={0} x2={1702} y1={y(2763.5)} y2={y(2763.5)} stroke="#ff1493" strokeWidth={3} />

      {/* level text */}
      <Rows rows={navyRows} color={NAVY} />
      <Rows rows={redRows} color={DRED} />
      {rowsGreen}
      <Label x={1701} y={y(2932)} fill={DRED} weight={400} size={11.5}>PRZ</Label>
      <Label x={1705} y={725} fill={LIME} size={11.5}>PRZ</Label>
      <Label x={1701} y={827.5} fill="#225522" weight={400} size={11.5}>PRZ</Label>

      {/* pattern labels */}
      <Label x={1007} y={318} fill={NAVY} anchor="start" size={10.8} weight={400}>282 t</Label>
      <Label x={978} y={331} fill={NAVY} anchor="start" size={10.8} weight={400}>729   A   2945.75</Label>
      <Label x={990} y={334} fill={DRED} anchor="start" size={10.8} weight={400}>726   X   2945.00</Label>
      <Label x={149.5} y={930} fill={NAVY} anchor="start" size={10.8} weight={700}>129   X   2795.75</Label>
      <Label x={1244} y={654.5} fill={NAVY} anchor="start" size={10.8} weight={400}>411   B   2866.25</Label>
      <Label x={1251} y={657} fill={DRED} anchor="start" size={10.8} weight={400}>409   A   2865.75</Label>
      <Label x={1275} y={667} fill={NAVY} anchor="start" size={10.8} weight={400}>53%</Label>
      <Label x={1283} y={670} fill={DRED} anchor="start" size={10.8} weight={400}>183 t</Label>
      <Label x={1297} y={500} fill={DRED} anchor="start" size={11.5} weight={400}>42.3%</Label>
      <Label x={1270} y={513} fill={DRED} anchor="start" size={11.5} weight={400}>543   B   2899.25</Label>
      <Label x={1325} y={1121.5} fill={LIME} anchor="start" size={11} weight={700}>479r</Label>

      {/* annotations */}
      <g fontSize={12} fontFamily={SANS}>
        <Label x={1147} y={297} fill="#111" anchor="start" size={12} weight={400}>10.04.2018 reTested</Label>
        <Label x={1147} y={310.5} fill="#111" anchor="start" size={12} weight={400}>09.21.2018 High @2947</Label>
        <Label x={1147} y={324} fill="#111" anchor="start" size={12} weight={400}>failed BO to newHigh = DTop</Label>
        <Label x={1340} y={539} fill={DRED} anchor="start" size={12} weight={400}>10.10.2018 WED</Label>
        <Label x={1340} y={553} fill={DRED} anchor="start" size={12} weight={400}>SellOff.D1 @9:30amET NYSE Open</Label>
        <Label x={1355} y={866} fill="#006400" anchor="start" size={12} weight={400}>10.11.2018 THU</Label>
        <Label x={1355} y={879.5} fill="#006400" anchor="start" size={12} weight={400}>SellOff.D2 @10amET</Label>
        <Label x={1355} y={892.5} fill="#006400" anchor="start" size={12} weight={400}>1stExtS2800 T2712 hit!</Label>
        <Label x={1371} y={1229.5} fill="#006400" anchor="start" size={12} weight={400}>1stExtS2800 T2712 hit!</Label>
        <Label x={1262.5} y={1177} fill="#808080" anchor="start" size={12} weight={400}>2018 POC @2727</Label>
      </g>
      <Arrow cx={1370} cy={911} dir={-1} fill="#006400" />
      <Arrow cx={1375.5} cy={1245} dir={1} fill={LIME} />
      <Label x={10.5} y={1511} fill="#222" anchor="start" size={17} weight={400}>XABCDTrading.com</Label>

      {/* order tags */}
      <line x1={1617} x2={1702} y1={y(2726.25)} y2={y(2726.25)} stroke="#deb887" strokeWidth={2} />
      <line x1={1617} x2={1702} y1={y(2724.25)} y2={y(2724.25)} stroke="#ff0000" strokeWidth={2} />
      <path d="M1417,1194 H1504 L1509,1204 L1504,1214 H1417 Z" fill="#ff0000" stroke="#000" />
      <Label x={1424} y={1204} fill="#fff" anchor="start" size={15} weight={400}>1 Sell STP</Label>
      <rect x={1509} y={1184} width={109} height={23} fill="#000" />
      <rect x={1598} y={1184} width={20} height={23} fill="#00d000" />
      <Label x={1519} y={1196} fill="#1fb81f" anchor="start" size={15} weight={400}>$1,862.50</Label>
      <Label x={1608} y={1196} fill="#000" anchor="middle" size={14} weight={400}>1</Label>
      <rect x={1681} y={1197} width={16} height={14} fill="#fff" stroke="#000" strokeWidth={1.5} />
      <path d="M1685,1200 L1693,1208 M1693,1200 L1685,1208" stroke="#000" strokeWidth={2.5} />

      {/* oscillator */}
      <line x1={0} x2={W} y1={1540} y2={1540} stroke="#000" strokeWidth={1.2} />
      <Label x={5} y={1555} fill="#111" anchor="start" size={15.35} weight={400}>PriceActionSwingOscillator(ES 12-18 (240 Minute), Standard, 7, 20)</Label>
      <g shapeRendering="crispEdges">
        {oscBars.map((b, i) => <rect key={i} x={Math.round(oscX(i)) - 1} width={2} y={oscY(b.v)} height={oscY(0) - oscY(b.v)} fill={b.c === "g" ? "#00ee00" : "#ff0000"} />)}
      </g>
      <path d={d3.line<number>().x((_, i) => oscX(oscBars.length - oscLastSwing.length + i)).y(v => oscY(v)).curve(d3.curveStepAfter)(oscLastSwing)!} fill="none" stroke="#00ee00" strokeWidth={2.5} />
      <Label x={5} y={1989.5} fill="#111" anchor="start" size={15.35} weight={400}>© 2018 NinjaTrader, LLC</Label>

      {/* time axis */}
      <line x1={0} x2={AXIS_X} y1={2006.5} y2={2006.5} stroke="#000" strokeWidth={1.2} />
      {dateTickSlots.map(t => <line key={t} x1={slotX(t)} x2={slotX(t)} y1={2006.5} y2={2012} stroke="#000" />)}
      {dateLabels.map((t, i) => <Label key={t} x={slotX(dateLabelSlots[i])} y={2027} fill="#111" anchor="middle" size={15} weight={400}>{t}</Label>)}
      <Label x={4} y={2049} fill="#222" anchor="start" size={9} weight={400}>ES 12-18</Label>

      {/* value axes */}
      <line x1={AXIS_X} x2={AXIS_X} y1={0} y2={2006.5} stroke="#000" strokeWidth={1.2} />
      {priceTicks.map(t => <g key={t}>
        <line x1={AXIS_X} x2={1714} y1={y(t)} y2={y(t)} stroke="#000" />
        <Label x={1717} y={y(t)} fill="#111" anchor="start" size={15} weight={400}>{t.toFixed(2)}</Label>
      </g>)}
      <line x1={AXIS_X} x2={1714} y1={1534} y2={1534} stroke="#000" />
      {oscTickValues.map(t => <g key={t}>
        <line x1={AXIS_X} x2={1714} y1={oscY(t)} y2={oscY(t)} stroke="#000" />
        <Label x={1717} y={oscY(t)} fill="#111" anchor="start" size={15} weight={400}>{t === 0 ? "0" : `${t}K`}</Label>
      </g>)}
      <line x1={AXIS_X} x2={1714} y1={oscY(10000)} y2={oscY(10000)} stroke="#000" />
      <Label x={1717} y={oscY(10000)} fill="#111" anchor="start" size={15} weight={400}>10M</Label>

      {/* price flags */}
      {flags.map(f => <Flag key={f[1]} cy={y(f[0])} text={f[1]} fill={f[2]} color={f[3]} />)}
      <Flag cy={oscY(10416)} text="10M" fill="#ff0000" color="#000" tall={20} />
      <Flag cy={oscY(2704)} text="2704K" fill="#00ff00" color="#000" tall={20} />

      {/* chart corner tools */}
      <rect x={1676} y={11} width={5} height={23} fill="#000" />
      <polygon points="1691,11 1691,34 1681,22.5" fill="#000" />
      <rect x={1758} y={3} width={16} height={17} fill="#777" stroke="#aaa" />
      <text x={1766} y={17} textAnchor="middle" fontFamily={SANS} fontSize={14} fill="#fff">F</text>
      <Toolbar />

      {/* brand */}
      <g>
        <ellipse cx={1619} cy={2049} rx={8} ry={10} fill="none" stroke="#8b8b8b" strokeWidth={2} />
        <path d="M1616,2059 L1620,2039 L1625,2059" fill="none" stroke="#8b1a1a" strokeWidth={2} />
        <text x={1635} y={2054} fontFamily={SANS} fontSize={15.5} letterSpacing={2.4}>
          <tspan fill="#8a8a8a">NINJA</tspan><tspan fill="#8b1a1a">TRADER</tspan><tspan fill="#8b1a1a" fontSize={10} dy={-5}>®</tspan>
        </text>
      </g>
    </svg>
  );
}
